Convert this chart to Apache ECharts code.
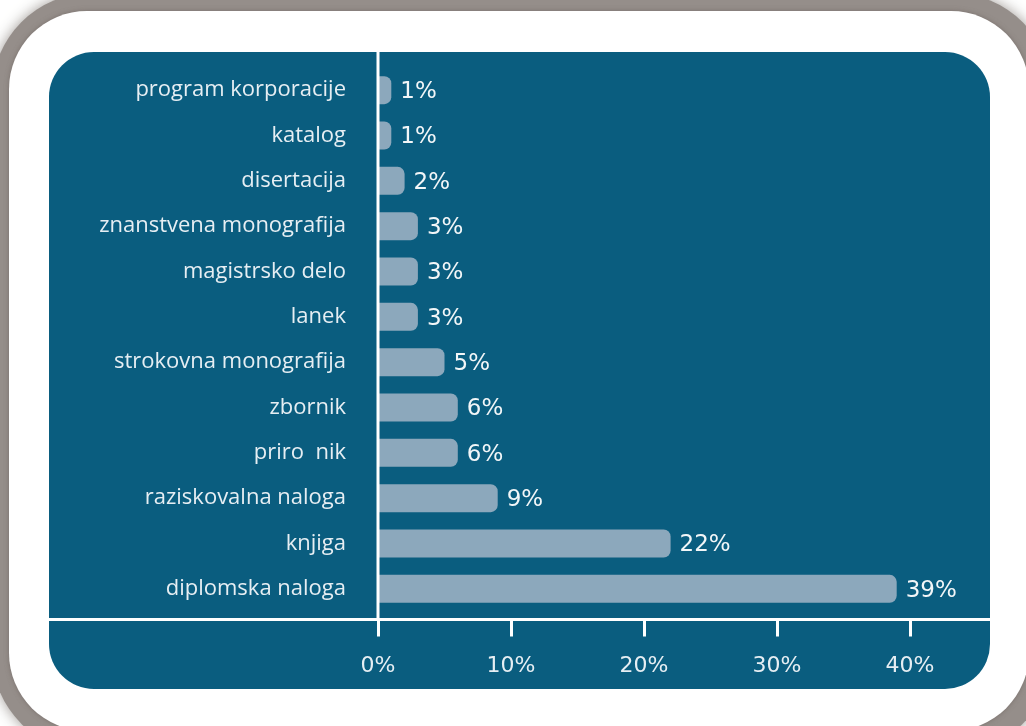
<!DOCTYPE html>
<html>
<head>
<meta charset="utf-8">
<script src="https://cdn.jsdelivr.net/npm/echarts@6/dist/echarts.min.js"></script>
<style>
  html, body { margin: 0; padding: 0; background: #ffffff; }
  #chart { width: 1026px; height: 726px; }
</style>
</head>
<body>
<div id="chart"></div>
<script>
// Publication types, listed top to bottom
const categories = [
  'program korporacije',
  'katalog',
  'disertacija',
  'znanstvena monografija',
  'magistrsko delo',
  'lanek',
  'strokovna monografija',
  'zbornik',
  'priro  nik',
  'raziskovalna naloga',
  'knjiga',
  'diplomska naloga'
];
// Share of each type, in percent
const shares = [1, 1, 2, 3, 3, 3, 5, 6, 6, 9, 22, 39];
// Value axis range
const axisMin = 0;
const axisMax = 40;
const axisStep = 10;

// Layout
const panel = { x: 49, y: 52, w: 941, h: 637, r: 45 };
const gridLeft = 378, gridRight = 116, gridTop = 67.5, gridHeight = 544;
const axisOffset = 8;
const teal = '#0a5d7f';
const barColor = '#8ca8bc';
const textColor = '#e6eef3';
const frameGray = '#958e8a';

const chart = echarts.init(document.getElementById('chart'), null, { renderer: 'canvas' });

const option = {
  animation: false,
  backgroundColor: '#ffffff',
  grid: { left: gridLeft, right: gridRight, top: gridTop, height: gridHeight, containLabel: false },
  xAxis: {
    type: 'value',
    min: axisMin,
    max: axisMax,
    interval: axisStep,
    offset: axisOffset,
    axisLine: { show: false },
    axisTick: { show: true, length: 17, lineStyle: { color: '#ffffff', width: 3 } },
    axisLabel: {
      formatter: '{value}%',
      color: textColor,
      fontSize: 22,
      fontFamily: 'DejaVu Sans',
      margin: 36
    },
    splitLine: { show: false }
  },
  yAxis: {
    type: 'category',
    data: categories,
    inverse: true,
    axisLine: { show: false },
    axisTick: { show: false },
    axisLabel: {
      color: textColor,
      fontSize: 22,
      fontFamily: 'Open Sans',
      margin: 32
    },
    splitLine: { show: false }
  },
  series: [{
    type: 'bar',
    data: shares,
    barWidth: 28,
    itemStyle: { color: barColor, borderRadius: [0, 7, 7, 0] },
    label: {
      show: true,
      position: 'right',
      distance: 9,
      formatter: '{c}%',
      color: '#f2f6f8',
      fontSize: 23,
      fontFamily: 'DejaVu Sans',
      offset: [0, 2]
    }
  }]
};

chart.setOption(option);

// Frame, panel and the white axis lines that run past the grid
const x0 = chart.convertToPixel({ xAxisIndex: 0 }, axisMin);
const axisY = gridTop + gridHeight + axisOffset;

chart.setOption({
  graphic: [
    {
      type: 'rect', z: -30, silent: true,
      shape: { x: -8, y: -7, width: 1060, height: 760, r: 100 },
      style: { fill: frameGray, shadowBlur: 14, shadowColor: 'rgba(149,142,138,0.9)' }
    },
    {
      type: 'rect', z: -20, silent: true,
      shape: { x: 9, y: 11, width: 1020, height: 720, r: 78 },
      style: { fill: '#ffffff', shadowBlur: 5, shadowColor: 'rgba(110,100,96,0.7)' }
    },
    {
      type: 'rect', z: -10, silent: true,
      shape: { x: panel.x, y: panel.y, width: panel.w, height: panel.h, r: panel.r },
      style: { fill: teal }
    },
    {
      type: 'line', z: 5, silent: true,
      shape: { x1: panel.x, y1: axisY, x2: panel.x + panel.w, y2: axisY },
      style: { stroke: '#ffffff', lineWidth: 3 }
    },
    {
      type: 'line', z: 5, silent: true,
      shape: { x1: x0, y1: panel.y, x2: x0, y2: axisY },
      style: { stroke: '#ffffff', lineWidth: 3 }
    }
  ]
});
</script>
</body>
</html>
